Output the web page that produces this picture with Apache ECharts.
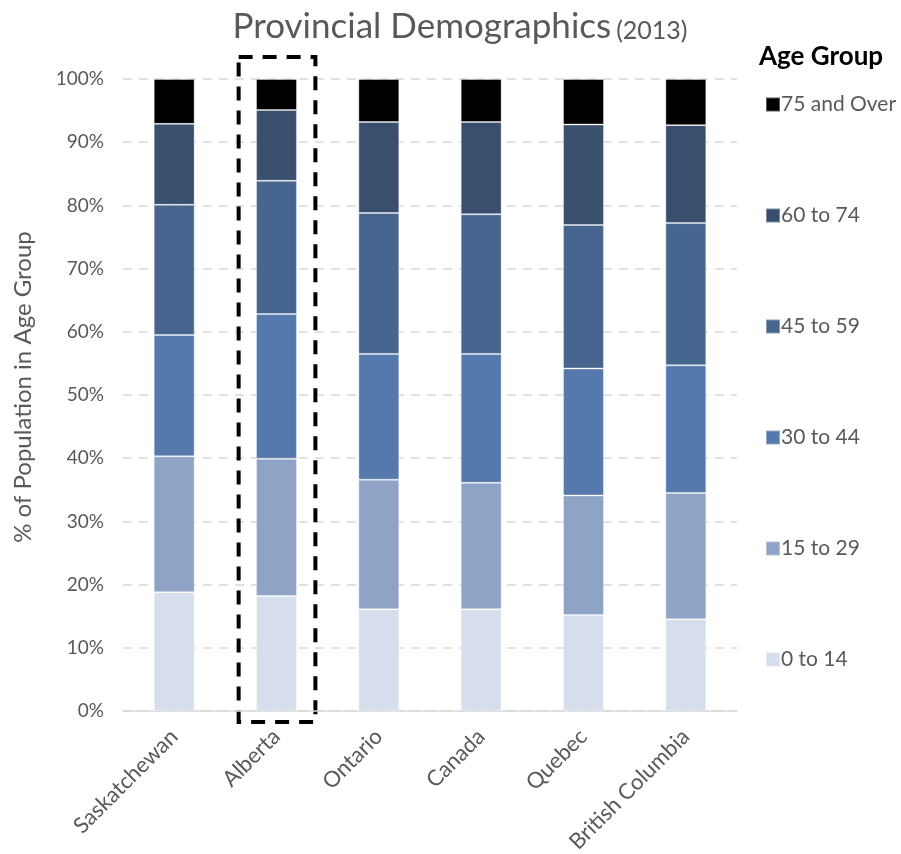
<!DOCTYPE html>
<html>
<head>
<meta charset="utf-8">
<script src="https://cdn.jsdelivr.net/npm/echarts@6/dist/echarts.min.js"></script>
<style>
  html, body { margin: 0; padding: 0; background: #fff; }
  #chart { width: 901px; height: 854px; }
</style>
</head>
<body>
<div id="chart"></div>
<script>
// 数据（百分比，按年龄段）
var provinces = ["Saskatchewan", "Alberta", "Ontario", "Canada", "Quebec", "British Columbia"];
var age0to14   = [18.8, 18.2, 16.1, 16.1, 15.2, 14.5];
var age15to29  = [21.5, 21.7, 20.5, 20.0, 18.9, 20.0];
var age30to44  = [19.2, 22.9, 19.9, 20.4, 20.1, 20.2];
var age45to59  = [20.6, 21.1, 22.3, 22.1, 22.7, 22.5];
var age60to74  = [12.8, 11.2, 14.4, 14.6, 15.9, 15.5];
var age75over  = [7.1, 4.9, 6.8, 6.8, 7.2, 7.3];
var groupNames = ["0 to 14", "15 to 29", "30 to 44", "45 to 59", "60 to 74", "75 and Over"];
var groupColors = ["#D5DEEA", "#8EA3C5", "#5679AD", "#47668F", "#3A4F6E", "#000000"];
var highlighted = "Alberta";

var font = "Lato, 'Open Sans', sans-serif";
var grey = "#595959";

var myChart = echarts.init(document.getElementById("chart"));

var allGroups = [age0to14, age15to29, age30to44, age45to59, age60to74, age75over];
var series = allGroups.map(function (vals, i) {
    return {
        name: groupNames[i],
        type: "bar",
        stack: "total",
        barWidth: "40%",
        data: vals,
        itemStyle: {
            color: groupColors[i],
            borderColor: "rgba(255,255,255,0.35)",
            borderWidth: 1
        }
    };
});

var option = {
    animation: false,
    title: {
        text: "{a|Provincial Demographics} {b|(2013)}",
        left: 455,
        textAlign: "center",
        top: 4,
        textStyle: {
            fontWeight: "normal",
            rich: {
                a: { fontFamily: font, fontSize: 35, fontWeight: "normal", color: grey },
                b: { fontFamily: font, fontSize: 25, fontWeight: "normal", color: grey, padding: [8, 0, 0, 0] }
            }
        }
    },
    legend: {
        orient: "vertical",
        left: 760,
        top: 89,
        itemWidth: 14,
        itemHeight: 14,
        itemGap: 90,
        icon: "rect",
        data: groupNames.slice().reverse(),
        textStyle: { fontFamily: font, fontSize: 21, color: grey, padding: [0, 0, 0, -4] }
    },
    grid: {
        left: 123,
        right: 164,
        top: 79,
        bottom: 143,
        outerBoundsMode: "none"
    },
    xAxis: {
        type: "category",
        data: provinces,
        axisLine: { lineStyle: { color: "#D9D9D9", width: 1.5 } },
        axisTick: { show: false },
        axisLabel: {
            rotate: 45,
            fontFamily: font,
            fontSize: 22,
            color: grey,
            margin: 22,
            interval: 0
        }
    },
    yAxis: {
        type: "value",
        min: 0,
        max: 100,
        interval: 10,
        name: "% of Population in Age Group",
        nameLocation: "middle",
        nameGap: 88,
        nameTextStyle: { fontFamily: font, fontSize: 24, color: grey, padding: [0, 0, 0, 16] },
        axisLine: { show: false },
        axisTick: { show: false },
        axisLabel: {
            formatter: "{value}%",
            fontFamily: font,
            fontSize: 19,
            color: grey,
            margin: 19
        },
        splitLine: { lineStyle: { color: "#D9D9D9", type: [9, 7], width: 1.5 } }
    },
    series: series
};

myChart.setOption(option);

// 图例标题 + Alberta 虚线框（位置由坐标轴换算）
var idx = provinces.indexOf(highlighted);
var c0 = myChart.convertToPixel({ xAxisIndex: 0 }, idx);
var c1 = myChart.convertToPixel({ xAxisIndex: 0 }, idx + 1);
var step = c1 - c0;
var yTop = myChart.convertToPixel({ yAxisIndex: 0 }, 100);
var yBot = myChart.convertToPixel({ yAxisIndex: 0 }, 0);

myChart.setOption({
    graphic: [
        {
            type: "text",
            left: 759,
            top: 44,
            style: { text: "Age Group", fontFamily: font, fontSize: 26, fontWeight: "bold", fill: "#000" }
        },
        {
            type: "rect",
            shape: {
                x: c0 - step * 0.37,
                y: yTop - 22,
                width: step * 0.75,
                height: yBot - yTop + 33
            },
            style: { fill: "none", stroke: "#000", lineWidth: 4, lineDash: [14, 10] }
        }
    ]
});
</script>
</body>
</html>
